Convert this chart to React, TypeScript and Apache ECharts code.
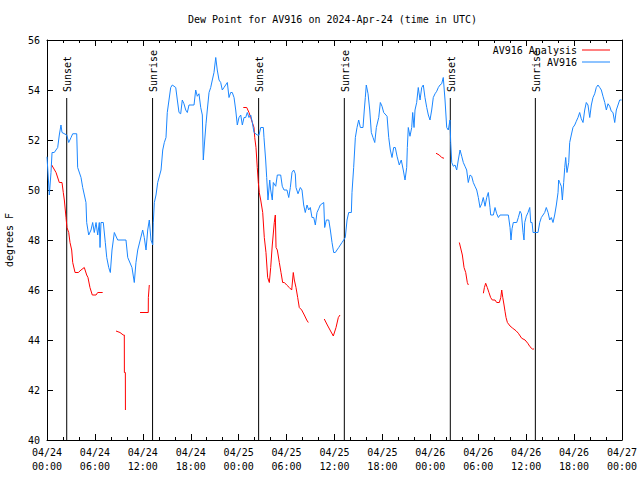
import React, { useEffect, useRef } from "react";
import * as echarts from "echarts";

// Hours since 2024-04-24 00:00 UTC
const startDay = 24;
const xMin = 0;
const xMax = 72;
const yMin = 40;
const yMax = 56;

const blueHours = [
  0.0, 0.29, 0.5, 0.63, 0.91, 1.34, 1.54, 1.75, 1.88, 2.47, 2.72, 3.01, 3.22, 3.72, 3.84, 4.26, 4.47, 4.88, 4.97, 5.22,
  5.51, 5.72, 5.92, 6.14, 6.35, 6.55, 6.64, 6.76, 7.05, 7.3, 7.48, 7.73, 7.93, 8.14, 8.43, 8.85, 9.89, 10.11, 10.64, 10.93,
  11.14, 11.36, 11.98, 12.18, 12.4, 12.61, 12.81, 13.02, 13.24, 13.31, 13.44, 13.65, 13.86, 14.28, 14.49, 14.69, 14.9, 15.06,
  15.49, 15.69, 16.12, 16.32, 16.53, 16.74, 16.94, 17.15, 17.37, 17.57, 17.78, 18.41, 18.62, 18.82, 19.03, 19.25, 19.45,
  19.57, 19.75, 19.91, 20.07, 20.29, 20.5, 20.7, 20.91, 21.13, 21.32, 21.54, 21.75, 21.95, 22.16, 22.58, 22.79, 23.0, 23.2,
  23.42, 23.63, 23.83, 24.04, 24.26, 24.46, 24.67, 24.88, 25.08, 25.29, 25.51, 25.71, 25.92, 26.33, 26.55, 26.76, 27.09,
  27.17, 27.38, 27.51, 27.67, 27.89, 28.01, 28.21, 28.34, 28.64, 28.84, 29.26, 29.46, 29.68, 30.05, 30.27, 30.47, 30.68,
  30.89, 31.09, 31.18, 31.43, 31.72, 31.93, 32.14, 32.34, 32.56, 32.77, 32.97, 33.18, 33.4, 33.6, 33.81, 34.02, 34.22,
  34.65, 34.77, 34.98, 35.28, 35.48, 35.69, 35.9, 36.1, 36.31, 36.53, 36.73, 36.94, 37.15, 37.35, 37.57, 37.78, 38.11,
  38.19, 38.4, 38.61, 38.82, 39.03, 39.24, 39.57, 39.73, 39.86, 39.98, 40.2, 40.41, 40.61, 40.82, 41.04, 41.24, 41.54,
  41.74, 41.95, 42.16, 42.58, 42.79, 42.99, 43.2, 43.41, 43.61, 43.83, 44.11, 44.36, 44.61, 44.83, 45.04, 45.12, 45.24,
  45.45, 45.67, 45.79, 45.96, 46.08, 46.29, 46.49, 46.71, 46.92, 47.12, 47.33, 47.55, 47.75, 47.96, 48.17, 48.37, 48.59,
  48.8, 49.0, 49.21, 49.42, 49.62, 49.84, 50.05, 50.25, 50.46, 50.55, 50.68, 50.88, 51.09, 51.3, 51.5, 51.72, 51.93, 52.13,
  52.34, 52.55, 52.75, 52.97, 53.18, 53.38, 53.59, 53.81, 54.01, 54.22, 54.43, 54.63, 54.85, 55.06, 55.26, 55.47, 55.56,
  55.89, 56.1, 56.31, 56.52, 56.73, 57.77, 57.98, 58.1, 58.23, 58.39, 58.82, 59.02, 59.23, 59.4, 59.61, 59.73, 59.82,
  60.02, 60.23, 60.45, 60.57, 60.74, 60.86, 61.48, 61.7, 61.9, 62.11, 62.32, 62.52, 62.74, 62.95, 63.15, 63.36, 63.57,
  63.78, 63.99, 64.07, 64.2, 64.4, 64.53, 64.7, 64.83, 64.95, 65.11, 65.33, 65.45, 65.65, 65.86, 66.08, 66.28, 66.49,
  66.7, 66.9, 67.12, 67.33, 67.53, 67.74, 67.96, 68.16, 68.37, 68.58, 68.78, 68.99, 69.21, 69.41, 69.62, 69.84, 70.04,
  70.25, 70.46, 70.66, 70.87, 71.09, 71.29, 71.5, 71.71, 71.95,
];

const blueValues = [
  51.33, 49.8, 50.7, 51.5, 51.5, 51.7, 52.2, 52.6, 52.3, 52.2, 51.9, 52.1, 52.25, 52.25, 50.9, 50.5, 50.1, 49.5, 48.7, 48.2,
  48.4, 48.7, 48.3, 48.7, 48.2, 48.7, 47.7, 48.7, 48.7, 47.9, 47.3, 46.9, 46.7, 47.6, 48.3, 48.0, 48.0, 47.3, 46.9, 46.3,
  47.1, 47.6, 48.4, 48.1, 47.6, 48.4, 48.8, 48.0, 47.8, 48.7, 49.5, 49.8, 50.3, 50.8, 51.6, 51.9, 52.1, 53.1,
  54.1, 54.2, 54.1, 53.6, 53.1, 53.05, 53.6, 53.45, 53.2, 53.1, 53.4, 53.4, 54.0, 53.75, 53.85, 53.3, 53.0,
  51.2, 52.0, 52.65, 53.2, 53.9, 54.1, 54.4, 54.7, 55.3, 54.8, 54.4, 54.3, 54.0, 54.1, 54.3, 53.7, 53.9, 53.9,
  53.7, 53.2, 52.6, 52.9, 53.0, 52.6, 52.9, 52.9, 53.1, 52.9, 53.0, 52.7, 52.3, 52.2, 52.2, 52.5, 52.5,
  52.1, 51.2, 50.5, 49.6, 50.4, 50.0, 49.6, 50.3, 50.15, 50.6, 50.6, 50.15, 50.0, 50.0, 49.7, 50.1, 50.7,
  50.8, 50.65, 50.1, 49.85, 50.1, 50.0, 49.4, 49.1, 49.4, 49.2, 49.3, 48.9, 48.9, 48.6, 49.1, 49.25, 49.4,
  49.5, 48.5, 48.8, 48.8, 48.4, 47.9, 47.5, 47.5, 47.6, 47.7, 47.8, 47.9, 48.0, 48.1, 48.8, 49.1, 49.1,
  49.9, 50.9, 52.1, 52.5, 52.8, 52.5, 52.5, 53.2, 53.7, 54.2, 53.85, 53.2, 52.3, 52.1, 51.9, 52.5, 52.9,
  53.5, 53.35, 53.1, 52.95, 52.1, 51.6, 51.3, 51.7, 51.7, 51.35, 51.0, 51.2, 50.8, 50.4, 50.9, 51.7, 52.5,
  52.15, 52.5, 53.1, 52.5, 53.2, 53.5, 54.1, 53.6, 54.1, 54.2, 53.7, 53.3, 53.0, 52.8, 53.2, 53.7, 53.85,
  53.95, 54.1, 54.2, 54.25, 54.5, 53.6, 52.5, 52.4, 52.8, 51.9, 51.1, 50.95, 51.0, 50.8, 51.2, 51.6, 51.35, 51.1,
  50.95, 50.8, 50.3, 50.6, 50.55, 50.3, 50.15, 50.0, 49.7, 49.3, 49.45, 49.7, 49.35, 49.7, 49.9, 49.3, 49.0,
  49.0, 49.3, 49.05, 48.9, 49.0, 49.0, 48.5, 48.0, 48.45, 48.7, 48.7, 48.9, 49.15, 49.05, 48.3, 48.0, 48.7,
  48.95, 49.1, 49.3, 48.7, 48.7, 48.3, 48.3, 48.7, 48.9, 49.0, 49.1, 49.3, 49.1, 48.8, 48.9, 48.7, 49.0,
  49.4, 49.9, 50.4, 50.3, 50.15, 49.6, 50.3, 50.9, 51.3, 50.7, 51.1, 51.9, 52.2, 52.5, 52.6, 52.75, 52.9,
  53.1, 52.85, 52.7, 53.2, 53.5, 53.4, 52.9, 53.4, 53.7, 53.85, 54.1, 54.2, 54.1, 54.0, 53.75, 53.5, 53.2,
  53.45, 53.35, 53.15, 53.1, 52.7, 53.2, 53.4, 53.6, 53.6,
];

// null marks a gap in the analysis trace
const redHours = [
  0.59, 1.13, 1.54, 1.88, 2.04, 2.17, 2.38, 2.5, 2.72, 2.88, 3.09, 3.22, 3.51, 3.92, 4.26, 4.67, 4.97, 5.13, 5.38, 5.67,
  6.14, 6.35, 6.97, 7.5,
  8.64, 9.14, 9.55, 9.68, 9.69, 9.81, 9.82, 10.5,
  11.65, 12.68, 12.69, 12.81, 18,
  24.58, 25.01, 25.29, 25.51, 25.71, 25.92, 26.01, 26.17, 26.33, 26.46, 26.58, 26.76, 27.01, 27.21, 27.42, 27.63, 27.84,
  28.01, 28.21, 28.46, 28.59, 28.68, 28.84, 29.09, 29.3, 29.51, 29.72, 30.01, 30.34, 30.64, 30.84, 30.97, 31.18, 31.39,
  31.59, 31.89, 32.22, 32.52, 32.72, 33.5,
  34.72, 35.1, 35.44, 35.85, 36.19, 36.48, 36.69, 42,
  48.71, 49.12, 49.42, 49.71, 50.5,
  51.63, 52.01, 52.22, 52.43, 52.63, 52.76, 53.5,
  54.64, 54.77, 54.93, 55.13, 55.34, 55.55, 55.76, 56.1, 56.31, 56.64, 56.82, 56.94, 57.07, 57.23, 57.36, 57.48, 57.65,
  57.98, 58.32, 58.73, 59.02, 59.44, 59.86, 60.2, 60.48, 60.77, 60.98,
];

const redValues = [
  51.0, 50.7, 50.3, 50.3, 49.9, 49.6, 48.9, 48.5, 48.3, 47.9, 47.6, 47.1, 46.7, 46.7, 46.8, 46.9, 46.6, 46.5, 46.1, 45.8,
  45.8, 45.9, 45.9, null,
  44.36, 44.3, 44.2, 44.2, 42.7, 42.7, 41.2, null,
  45.1, 45.1, 45.7, 46.2, null,
  53.3, 53.3, 53.1, 52.9, 52.7, 52.5, 52.1, 51.7, 50.9, 50.3, 49.9, 49.6, 49.1, 48.1, 47.5, 46.5, 46.3,
  46.9, 47.8, 48.7, 49.0, 47.7, 47.6, 47.1, 46.7, 46.3, 46.3, 46.2, 46.1, 46.0, 46.7, 46.4, 46.1, 45.7,
  45.3, 45.2, 45.0, 44.8, 44.7, null,
  44.84, 44.6, 44.4, 44.16, 44.5, 44.9, 45.0, null,
  51.47, 51.4, 51.3, 51.27, null,
  47.9, 47.4, 46.9, 46.7, 46.3, 46.2, null,
  45.87, 46.1, 46.27, 46.1, 45.9, 45.7, 45.6, 45.6, 45.5, 45.5, 45.7, 46.0, 45.7, 45.4, 45.13, 44.9, 44.7,
  44.56, 44.47, 44.37, 44.27, 44.07, 44.0, 43.87, 43.73, 43.64, 43.64,
];

const sunEventHours = [2.47, 13.22, 26.5, 37.23, 50.5, 61.15];
const sunEventLabels = ["Sunset", "Sunrise", "Sunset", "Sunrise", "Sunset", "Sunrise"];

const titleText = "Dew Point for AV916 on 2024-Apr-24 (time in UTC)";
const redName = "AV916 Analysis";
const blueName = "AV916";

export default function App() {
  const ref = useRef<HTMLDivElement>(null);

  useEffect(() => {
    if (!ref.current) return;
    const chart = echarts.init(ref.current, null, { renderer: "svg" });
    const font = "DejaVu Sans Mono";
    const fs = 10;
    const black = "#000";
    const blue = "#1a86ff";
    const red = "#ff0000";
    const lineFrac = 0.855;

    const fmt = (h: number) => {
      const d = startDay + Math.floor(h / 24);
      const hh = Math.round(h % 24);
      return `04/${d}\n${String(hh).padStart(2, "0")}:00`;
    };

    const blueData = blueHours.map((h, i) => [h, blueValues[i]]);
    const redData = redHours.map((h, i) => [h, redValues[i] === null ? "-" : redValues[i]]);
    const sunData = sunEventHours.map((h) => [h, yMin]);

    const xBase = {
      type: "value",
      min: xMin,
      max: xMax,
      interval: 6,
      axisLine: { show: true, onZero: false, lineStyle: { color: black, width: 1 } },
      axisTick: { show: true, inside: true, length: 6, lineStyle: { color: black } },
      minorTick: { show: true, splitNumber: 3, length: 3, lineStyle: { color: black } },
      splitLine: { show: false },
    };
    const yBase = {
      type: "value",
      min: yMin,
      max: yMax,
      interval: 2,
      axisLine: { show: true, onZero: false, lineStyle: { color: black, width: 1 } },
      axisTick: { show: true, inside: true, length: 6, lineStyle: { color: black } },
      splitLine: { show: false },
    };

    const legendBase = {
      orient: "horizontal",
      right: 30,
      align: "right",
      icon: "rect",
      itemWidth: 28,
      itemHeight: 1,
      padding: 0,
      textStyle: { fontFamily: font, fontSize: fs, color: black },
    };

    chart.setOption({
      animation: false,
      textStyle: { fontFamily: font },
      title: {
        text: titleText,
        left: 188,
        top: 14,
        padding: 0,
        textStyle: { fontFamily: font, fontSize: fs, fontWeight: "normal", color: black },
      },
      legend: [
        { ...legendBase, top: 45, data: [redName] },
        { ...legendBase, top: 57, data: [blueName] },
      ],
      grid: { left: 47, right: 18, top: 40, bottom: 40, containLabel: false, outerBoundsMode: "none" },
      xAxis: [
        {
          ...xBase,
          position: "bottom",
          axisLabel: {
            show: true,
            margin: 5,
            formatter: fmt,
            fontFamily: font,
            fontSize: fs,
            lineHeight: 14,
            color: black,
          },
        },
        { ...xBase, position: "top", axisLabel: { show: false } },
      ],
      yAxis: [
        {
          ...yBase,
          position: "left",
          name: "degrees F",
          nameLocation: "middle",
          nameGap: 33,
          nameRotate: 90,
          nameTextStyle: { fontFamily: font, fontSize: fs, color: black },
          axisLabel: { show: true, margin: 7, fontFamily: font, fontSize: fs, color: black },
        },
        { ...yBase, position: "right", axisLabel: { show: false } },
      ],
      series: [
        {
          name: redName,
          type: "line",
          data: redData,
          showSymbol: false,
          symbol: "none",
          connectNulls: false,
          lineStyle: { color: red, width: 1 },
          itemStyle: { color: red },
        },
        {
          name: blueName,
          type: "line",
          data: blueData,
          showSymbol: false,
          symbol: "none",
          lineStyle: { color: blue, width: 1 },
          itemStyle: { color: blue },
        },
        {
          name: "sun",
          type: "custom",
          data: sunData,
          encode: { x: 0, y: 1 },
          renderItem: (params: any, api: any) => {
            const t = api.value(0);
            const bottom = api.coord([t, yMin]);
            const top = api.coord([t, yMax]);
            const yTop = bottom[1] - lineFrac * (bottom[1] - top[1]);
            return {
              type: "group",
              children: [
                {
                  type: "line",
                  shape: { x1: bottom[0], y1: bottom[1], x2: bottom[0], y2: yTop },
                  style: { stroke: black, lineWidth: 1 },
                },
                {
                  type: "text",
                  x: bottom[0] + 1,
                  y: yTop - 6,
                  rotation: Math.PI / 2,
                  style: {
                    text: sunEventLabels[params.dataIndex],
                    fill: black,
                    fontFamily: font,
                    fontSize: fs,
                    align: "left",
                    verticalAlign: "middle",
                  },
                },
              ],
            };
          },
        },
      ],
    });

    return () => chart.dispose();
  }, []);

  return (
    <div
      ref={ref}
      style={{ position: "absolute", left: 0, top: 0, width: 640, height: 480, background: "#fff" }}
    />
  );
}
